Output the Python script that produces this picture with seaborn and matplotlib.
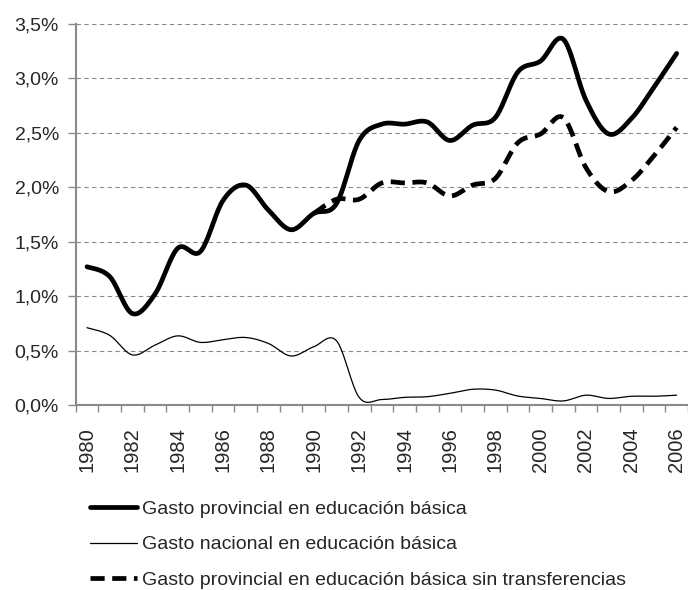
import numpy as np
import pandas as pd
import matplotlib
matplotlib.use('Agg')
import matplotlib.pyplot as plt
import seaborn as sns
from matplotlib.ticker import FuncFormatter, MultipleLocator, FixedLocator

# Values (% of GDP)
years = list(range(1980, 2007))
provincial = [1.27, 1.18, 0.84, 1.02, 1.44, 1.41, 1.88, 2.02, 1.79, 1.61,
              1.76, 1.85, 2.43, 2.58, 2.58, 2.60, 2.43, 2.57, 2.64, 3.06,
              3.16, 3.36, 2.80, 2.49, 2.63, 2.92, 3.23]
nacional = [0.71, 0.64, 0.46, 0.55, 0.635, 0.575, 0.60, 0.62, 0.565, 0.45,
            0.535, 0.59, 0.07, 0.05, 0.07, 0.076, 0.107, 0.144, 0.137, 0.082,
            0.06, 0.037, 0.09, 0.06, 0.08, 0.08, 0.09]
years_sin = list(range(1990, 2007))
sin_transf = [1.76, 1.89, 1.89, 2.04, 2.04, 2.04, 1.92, 2.02, 2.08, 2.41,
              2.49, 2.64, 2.18, 1.96, 2.06, 2.29, 2.55]

labels = ['Gasto provincial en educación básica',
          'Gasto nacional en educación básica',
          'Gasto provincial en educación básica sin transferencias']
year_ticks = list(range(1980, 2007, 2))


def smooth(x, y, n=20):
    # excel style smoothed line (catmull-rom bezier through the points)
    p = np.column_stack([x, y]).astype(float)
    out = []
    for i in range(len(p) - 1):
        p0 = p[i - 1] if i > 0 else p[i]
        p1, p2 = p[i], p[i + 1]
        p3 = p[i + 2] if i + 2 < len(p) else p[i + 1]
        c1 = p1 + (p2 - p0) / 6
        c2 = p2 - (p3 - p1) / 6
        t = np.linspace(0, 1, n, endpoint=False)[:, None]
        out.append((1 - t) ** 3 * p1 + 3 * (1 - t) ** 2 * t * c1 + 3 * (1 - t) * t ** 2 * c2 + t ** 3 * p2)
    out.append(p[-1:])
    out = np.vstack(out)
    return pd.DataFrame({'year': out[:, 0], 'value': out[:, 1]})


sns.set_style('white')
plt.rcParams['font.family'] = ['Liberation Sans', 'DejaVu Sans']

fig = plt.figure(figsize=(6.88, 5.90), dpi=100)
ax = fig.add_axes([0.110, 0.3136, 0.890, 0.6457])

grid_color = '#8a8a8a'
ax.yaxis.grid(True, color=grid_color, linestyle=(0, (4, 3)), linewidth=0.8)
ax.set_axisbelow(True)

sns.lineplot(data=smooth(years, provincial), x='year', y='value', ax=ax,
             color='black', linewidth=3.4, label=labels[0], sort=False)
sns.lineplot(data=smooth(years, nacional), x='year', y='value', ax=ax,
             color='black', linewidth=0.9, label=labels[1], sort=False)
sns.lineplot(data=smooth(years_sin, sin_transf), x='year', y='value', ax=ax,
             color='black', linewidth=3.4, linestyle=(0, (3, 1.6)), label=labels[2], sort=False)

ax.set_xlim(1979.5, 2006.5)
ax.set_ylim(0, 3.5)
ax.yaxis.set_major_locator(MultipleLocator(0.5))
ax.yaxis.set_major_formatter(FuncFormatter(lambda v, _: f'{v:.1f}%'.replace('.', ',')))

ax.xaxis.set_major_locator(FixedLocator(year_ticks))
ax.set_xticklabels([str(y) for y in year_ticks], rotation=90, fontsize=14.5)
ax.xaxis.set_minor_locator(FixedLocator(np.arange(1979.5, 2007, 1)))
ax.tick_params(axis='x', which='major', length=0, pad=16)
ax.tick_params(axis='x', which='minor', length=5, width=1, color=grid_color, direction='out')
ax.tick_params(axis='y', length=6, width=1, color=grid_color, direction='out', pad=6, labelsize=14)
ax.tick_params(bottom=True, left=True, which='both')

for side in ['top', 'right']:
    ax.spines[side].set_visible(False)
for side in ['left', 'bottom']:
    ax.spines[side].set_color(grid_color)
    ax.spines[side].set_linewidth(1.5)

ax.set_xlabel('')
ax.set_ylabel('')

handles, labs = ax.get_legend_handles_labels()
ax.get_legend().remove()
fig.legend(handles, labs, loc='upper left', bbox_to_anchor=(90 / 688, 1 - 500 / 590),
           frameon=False, fontsize=14, handlelength=2.4, handletextpad=0.3,
           labelspacing=0.93, borderpad=0, borderaxespad=0)

fig.savefig('out.png', dpi=100)
